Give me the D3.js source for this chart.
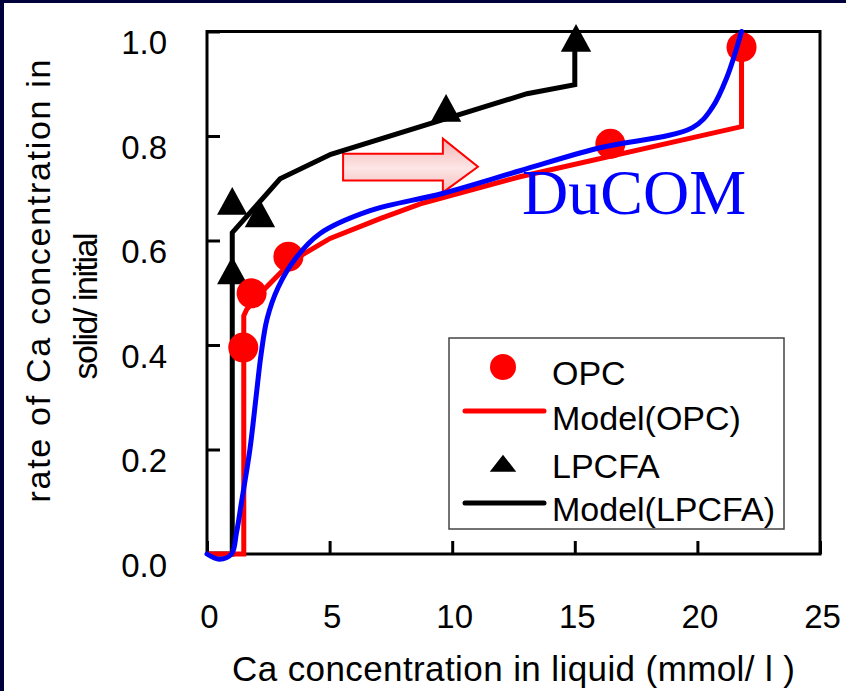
<!DOCTYPE html>
<html>
<head>
<meta charset="utf-8">
<script src="https://cdn.jsdelivr.net/npm/d3@7"></script>
<style>
  body { margin: 0; background: #00003a; }
  svg { display: block; }
  text { font-family: "Liberation Sans", Arial, sans-serif; }
</style>
</head>
<body>
<div id="chart"></div>
<script>
// measured points, OPC
const opcX = [1.48, 1.82, 3.32, 16.45, 21.8];
const opcY = [0.395, 0.499, 0.569, 0.785, 0.970];
// measured points, LPCFA
const lpcfaX = [1.03, 2.16, 1.03, 9.75, 15.05];
const lpcfaY = [0.667, 0.643, 0.534, 0.845, 0.979];
// model lines
const modelOpcX = [0, 1.5, 1.5, 1.62, 2.3, 3.5, 5.02, 7.06, 8.7, 12.76, 21.8, 21.8];
const modelOpcY = [0, 0, 0.456, 0.468, 0.505, 0.562, 0.604, 0.642, 0.67, 0.722, 0.818, 1.0];
const modelLpcfaX = [0, 1.03, 1.03, 2.98, 5.05, 13.05, 15.0, 15.0];
const modelLpcfaY = [0, 0, 0.615, 0.718, 0.765, 0.881, 0.898, 0.98];
// DuCOM simulation
const ducomX = [0, 0.5, 1.0, 1.2, 1.41, 1.75, 2.0, 2.2, 2.45, 2.9, 3.6, 4.6, 6.65, 9.6, 12.8, 15.9, 19.8, 20.6, 21.2, 21.8];
const ducomY = [0, -0.01, 0.0, 0.04, 0.10, 0.2, 0.3, 0.38, 0.45, 0.51, 0.565, 0.613, 0.657, 0.69, 0.734, 0.776, 0.816, 0.854, 0.912, 1.0];

const xTicks = [0, 5, 10, 15, 20, 25];
const yTicks = [0, 0.2, 0.4, 0.6, 0.8, 1.0];
const legendLabels = ["OPC", "Model(OPC)", "LPCFA", "Model(LPCFA)"];

const width = 846, height = 691;
const pLeft = 207, pRight = 820, pTop = 31.5, pBottom = 554;

const svg = d3.select("#chart").append("svg")
    .attr("width", width)
    .attr("height", height);

svg.append("rect")
    .attr("x", 4).attr("y", 3)
    .attr("width", width - 4).attr("height", height - 3)
    .attr("fill", "#fff");

const x = d3.scaleLinear().domain([0, 25]).range([pLeft, pRight]);
const y = d3.scaleLinear().domain([0, 1]).range([pBottom, pTop]);

const zip = (xs, ys) => xs.map((v, i) => [v, ys[i]]);

// gradient for the arrow
const grad = svg.append("defs").append("linearGradient")
    .attr("id", "arrowGrad")
    .attr("x1", 0).attr("y1", 0).attr("x2", 0).attr("y2", 1);
grad.append("stop").attr("offset", "0%").attr("stop-color", "#f5b3b3");
grad.append("stop").attr("offset", "55%").attr("stop-color", "#fde6e6");
grad.append("stop").attr("offset", "100%").attr("stop-color", "#f5bcbc");

// axes
const yAxis = d3.axisLeft(y).tickValues(yTicks).tickFormat(d3.format(".1f"))
    .tickSize(-13).tickPadding(40);
const xAxis = d3.axisBottom(x).tickValues(xTicks).tickFormat(d3.format("d"))
    .tickSize(-13).tickPadding(74);

const gy = svg.append("g").attr("transform", "translate(" + pLeft + ",0)").call(yAxis);
const gx = svg.append("g").attr("transform", "translate(0," + pBottom + ")").call(xAxis);
[gx, gy].forEach(g => {
    g.select(".domain").remove();
    g.selectAll(".tick line").attr("stroke", "#000").attr("stroke-width", 3);
    g.selectAll(".tick text").attr("fill", "#000")
        .style("font-size", "33px")
        .style("font-family", "'Liberation Sans', Arial, sans-serif");
});
gy.selectAll(".tick text").attr("dy", 22);
gx.selectAll(".tick text").attr("dy", 0).attr("x", 2);

svg.append("rect")
    .attr("x", pLeft).attr("y", pTop)
    .attr("width", pRight - pLeft).attr("height", pBottom - pTop)
    .attr("fill", "none").attr("stroke", "#000").attr("stroke-width", 3);

// axis titles
svg.append("text")
    .attr("x", 232).attr("y", 681)
    .attr("textLength", 563).attr("lengthAdjust", "spacing")
    .style("font-size", "35px")
    .text("Ca concentration in liquid (mmol/ l )");

svg.append("text")
    .attr("transform", "translate(50,281) rotate(-90)")
    .attr("text-anchor", "middle")
    .attr("textLength", 443).attr("lengthAdjust", "spacing")
    .style("font-size", "34px")
    .text("rate of Ca concentration in");
svg.append("text")
    .attr("transform", "translate(97,306) rotate(-90)")
    .attr("text-anchor", "middle")
    .attr("textLength", 147).attr("lengthAdjust", "spacing")
    .style("font-size", "34px")
    .text("solid/ initial");

// arrow annotation (data coords)
const ax0 = 5.55, ax1 = 9.62, ax2 = 11.05;
const ayTop = 0.795, ayBodyTop = 0.766, ayMid = 0.741, ayBodyBot = 0.715, ayBot = 0.692;
const arrowPts = [
    [ax0, ayBodyTop], [ax1, ayBodyTop], [ax1, ayTop], [ax2, ayMid],
    [ax1, ayBot], [ax1, ayBodyBot], [ax0, ayBodyBot]
].map(p => [x(p[0]), y(p[1])]);
svg.append("polygon")
    .attr("points", arrowPts.map(p => p.join(",")).join(" "))
    .attr("fill", "url(#arrowGrad)")
    .attr("stroke", "#ff0000").attr("stroke-width", 2);

const line = d3.line().x(d => x(d[0])).y(d => y(d[1]));

// LPCFA model + points
svg.append("path")
    .attr("d", line(zip(modelLpcfaX, modelLpcfaY)))
    .attr("fill", "none").attr("stroke", "#000").attr("stroke-width", 5)
    .attr("stroke-linejoin", "miter");

const tri = d3.symbol().type(d3.symbolTriangle).size(400);
svg.selectAll(".tri").data(zip(lpcfaX, lpcfaY)).enter().append("path")
    .attr("class", "tri")
    .attr("d", tri)
    .attr("transform", d => "translate(" + x(d[0]) + "," + y(d[1]) + ") scale(1,1.05)")
    .attr("fill", "#000");

// OPC model + points
svg.append("path")
    .attr("d", line(zip(modelOpcX, modelOpcY)))
    .attr("fill", "none").attr("stroke", "#ff0000").attr("stroke-width", 5);

svg.selectAll(".opc").data(zip(opcX, opcY)).enter().append("circle")
    .attr("class", "opc")
    .attr("cx", d => x(d[0])).attr("cy", d => y(d[1]))
    .attr("r", 15).attr("fill", "#ff0000");

// DuCOM curve
svg.append("path")
    .attr("d", d3.line().x(d => x(d[0])).y(d => y(d[1])).curve(d3.curveCatmullRom.alpha(0.5))(zip(ducomX, ducomY)))
    .attr("fill", "none").attr("stroke", "#0000ff").attr("stroke-width", 5)
    .attr("stroke-linecap", "round");

svg.append("text")
    .attr("x", 522).attr("y", 214)
    .attr("fill", "#0000ff")
    .style("font-family", "'Liberation Serif', 'Times New Roman', serif")
    .style("font-size", "64px")
    .text("DuCOM");

// legend
const lg = svg.append("g");
lg.append("rect")
    .attr("x", 449).attr("y", 338).attr("width", 335).attr("height", 191)
    .attr("fill", "#fff").attr("stroke", "#444").attr("stroke-width", 1.5);

const rowY = [367, 411, 466, 503];
lg.append("circle").attr("cx", 503).attr("cy", rowY[0]).attr("r", 13).attr("fill", "#ff0000");
lg.append("line").attr("x1", 465).attr("x2", 544).attr("y1", rowY[1]).attr("y2", rowY[1])
    .attr("stroke", "#ff0000").attr("stroke-width", 5).attr("stroke-linecap", "round");
lg.append("path").attr("d", d3.symbol().type(d3.symbolTriangle).size(230))
    .attr("transform", "translate(503," + rowY[2] + ") scale(1.15,0.85)")
    .attr("fill", "#000");
lg.append("line").attr("x1", 465).attr("x2", 544).attr("y1", rowY[3]).attr("y2", rowY[3])
    .attr("stroke", "#000").attr("stroke-width", 5).attr("stroke-linecap", "round");

const textY = [385, 430, 478, 521];
lg.selectAll(".lt").data(legendLabels).enter().append("text")
    .attr("class", "lt")
    .attr("x", 552).attr("y", (d, i) => textY[i])
    .style("font-size", "34px")
    .text(d => d);
</script>
</body>
</html>
